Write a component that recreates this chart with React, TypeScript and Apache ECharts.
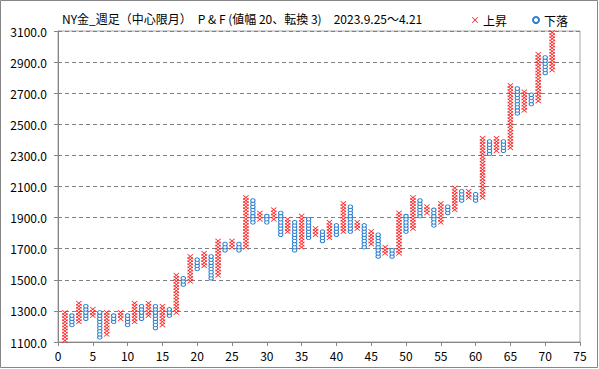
import React, { useEffect, useRef } from "react";
import * as echarts from "echarts";

// Point & Figure columns (box 20, reversal 3); values are the plotted box centres
const columnNo = [
  1, 2, 3, 4, 5, 6, 7, 8, 9, 10, 11, 12, 13, 14, 15, 16, 17, 18, 19, 20,
  21, 22, 23, 24, 25, 26, 27, 28, 29, 30, 31, 32, 33, 34, 35, 36, 37, 38, 39, 40,
  41, 42, 43, 44, 45, 46, 47, 48, 49, 50, 51, 52, 53, 54, 55, 56, 57, 58, 59, 60,
  61, 62, 63, 64, 65, 66, 67, 68, 69, 70, 71,
];
const direction = [
  "X", "O", "X", "O", "X", "O", "X", "O", "X", "O", "X", "O", "X", "O", "X", "O", "X", "O", "X", "O",
  "X", "O", "X", "O", "X", "O", "X", "O", "X", "O", "X", "O", "X", "O", "X", "O", "X", "O", "X", "O",
  "X", "O", "X", "O", "X", "O", "X", "O", "X", "O", "X", "O", "X", "O", "X", "O", "X", "O", "X", "O",
  "X", "O", "X", "O", "X", "O", "X", "O", "X", "O", "X",
];
const boxLow = [
  1110, 1210, 1230, 1250, 1270, 1130, 1150, 1230, 1250, 1210,
  1230, 1250, 1270, 1190, 1210, 1270, 1290, 1470, 1490, 1570,
  1590, 1510, 1530, 1690, 1710, 1690, 1710, 1870, 1890, 1870,
  1890, 1790, 1810, 1690, 1710, 1770, 1790, 1750, 1770, 1790,
  1810, 1810, 1830, 1710, 1730, 1650, 1670, 1650, 1670, 1810,
  1830, 1910, 1930, 1850, 1870, 1930, 1950, 2010, 2030, 2010,
  2030, 2310, 2330, 2330, 2350, 2570, 2590, 2630, 2650, 2830,
  2850,
];
const boxHigh = [
  1290, 1270, 1350, 1330, 1310, 1290, 1290, 1270, 1290, 1270,
  1350, 1330, 1350, 1330, 1330, 1310, 1530, 1510, 1650, 1630,
  1670, 1650, 1750, 1730, 1750, 1730, 2030, 2010, 1930, 1910,
  1950, 1930, 1890, 1870, 1910, 1890, 1830, 1810, 1870, 1850,
  1990, 1970, 1870, 1850, 1810, 1790, 1710, 1690, 1930, 1910,
  2030, 2010, 1970, 1950, 1990, 1970, 2090, 2070, 2070, 2050,
  2410, 2390, 2410, 2390, 2750, 2730, 2710, 2690, 2950, 2930,
  3090,
];
const BOX = 20;
const seriesNames = ["上昇", "下落"];
const titleText = "NY金_週足（中心限月）　P & F (値幅 20、転換 3)　2023.9.25～4.21";

const X_PATH = "path://M0,1L1,0L5,4L9,0L10,1L6,5L10,9L9,10L5,6L1,10L0,9L4,5Z";
const FONT = "'Noto Sans CJK JP', 'Noto Sans', sans-serif";

export default function App() {
  const ref = useRef<HTMLDivElement>(null);
  useEffect(() => {
    document.body.style.margin = "0";
    if (!ref.current) return;
    const chart = echarts.init(ref.current, null, { renderer: "svg" });
    const upPts: number[][] = [];
    const downPts: number[][] = [];
    columnNo.forEach((c, i) => {
      const target = direction[i] === "X" ? upPts : downPts;
      for (let v = boxLow[i]; v <= boxHigh[i]; v += BOX) target.push([c, v]);
    });
    chart.setOption({
      animation: false,
      textStyle: { fontFamily: FONT },
      title: {
        text: titleText,
        left: 62,
        top: 12,
        padding: 0,
        textStyle: { fontSize: 12, fontWeight: "normal", color: "#000", fontFamily: FONT },
      },
      legend: {
        left: 472,
        top: 14,
        padding: 0,
        itemGap: 25,
        itemWidth: 6,
        itemHeight: 6,
        textStyle: { fontSize: 12, color: "#000", fontFamily: FONT },
        data: [
          { name: seriesNames[0], icon: X_PATH },
          { name: seriesNames[1], icon: "circle" },
        ],
      },
      graphic: [
        {
          type: "rect",
          shape: { x: 0.5, y: 0.5, width: 597, height: 367 },
          style: { fill: "none", stroke: "#868686", lineWidth: 1 },
          silent: true,
        },
      ],
      grid: {
        left: 58,
        right: 19,
        top: 31,
        bottom: 27,
        show: true,
        borderColor: "#a6a6a6",
        borderWidth: 1,
      },
      xAxis: {
        type: "value",
        min: 0,
        max: 75,
        interval: 5,
        axisLine: { show: true, lineStyle: { color: "#868686" } },
        axisTick: { show: true, length: 4, lineStyle: { color: "#868686" } },
        axisLabel: { fontSize: 12, color: "#000", margin: 7, fontFamily: FONT },
        splitLine: { show: false },
      },
      yAxis: {
        type: "value",
        min: 1100,
        max: 3100,
        interval: 200,
        axisLine: { show: true, lineStyle: { color: "#868686" } },
        axisTick: { show: true, length: 4, lineStyle: { color: "#868686" } },
        axisLabel: {
          fontSize: 12,
          color: "#000",
          margin: 11,
          fontFamily: FONT,
          formatter: (v: number) => v.toFixed(1),
        },
        splitLine: { show: true, lineStyle: { color: "#808080", type: [4, 3], width: 1 } },
      },
      series: [
        {
          name: seriesNames[0],
          type: "scatter",
          symbol: X_PATH,
          symbolSize: [6, 5],
          itemStyle: { color: "#ff1a1a", opacity: 1 },
          data: upPts,
          z: 3,
        },
        {
          name: seriesNames[1],
          type: "scatter",
          symbol: "circle",
          symbolSize: [4.4, 3.6],
          itemStyle: { color: "#ffffff", borderColor: "#2a7fcf", borderWidth: 1, opacity: 1 },
          data: downPts,
          z: 3,
        },
      ],
    });
    return () => chart.dispose();
  }, []);
  return <div ref={ref} style={{ width: 599, height: 369 }} />;
}
